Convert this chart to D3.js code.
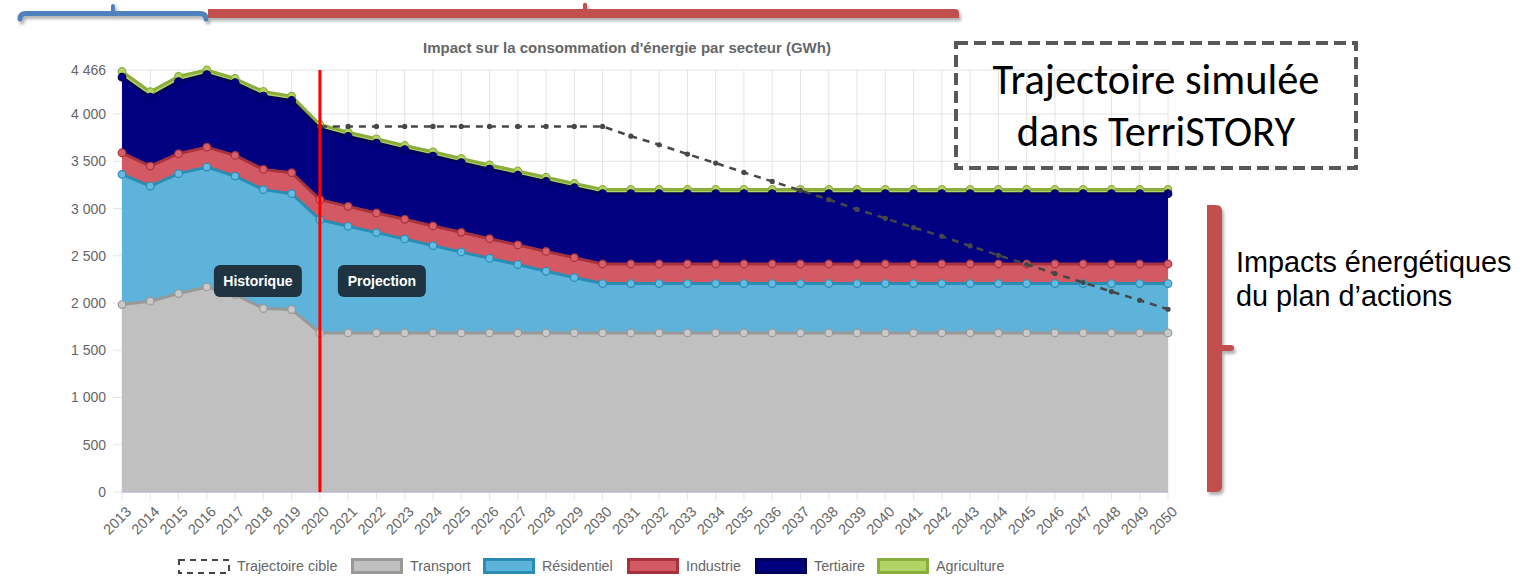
<!DOCTYPE html>
<html lang="fr">
<head>
<meta charset="utf-8">
<script src="https://cdn.jsdelivr.net/npm/d3@7"></script>
<style>
  html, body { margin: 0; padding: 0; background: #fff; }
  svg { display: block; }
</style>
</head>
<body>
<svg id="chart" width="1525" height="584"></svg>
<script>
// ---- Données (GWh) ----
const years = [2013, 2014, 2015, 2016, 2017, 2018, 2019, 2020, 2021, 2022, 2023, 2024, 2025,
  2026, 2027, 2028, 2029, 2030, 2031, 2032, 2033, 2034, 2035, 2036, 2037, 2038, 2039, 2040,
  2041, 2042, 2043, 2044, 2045, 2046, 2047, 2048, 2049, 2050];

const transport = [1984, 2019, 2100, 2170, 2090, 1942, 1931, 1684, 1684, 1684, 1684, 1684, 1684,
  1684, 1684, 1684, 1684, 1684, 1684, 1684, 1684, 1684, 1684, 1684, 1684, 1684, 1684, 1684,
  1684, 1684, 1684, 1684, 1684, 1684, 1684, 1684, 1684, 1684];

const residentiel = [1377, 1219, 1269, 1269, 1253, 1258, 1226, 1198, 1128, 1061, 994, 923, 856,
  789, 723, 652, 586, 522, 522, 522, 522, 522, 522, 522, 522, 522, 522, 522,
  522, 522, 522, 522, 522, 522, 522, 522, 522, 522];

const industrie = [229, 211, 211, 211, 219, 214, 222, 212, 211, 208, 208, 208, 208,
  208, 208, 210, 210, 207, 207, 207, 207, 207, 207, 207, 207, 207, 207, 207,
  207, 207, 207, 207, 207, 207, 207, 207, 207, 207];

const tertiaire = [800, 729, 764, 768, 769, 775, 764, 750, 740, 740, 736, 740, 737,
  735, 737, 740, 740, 744, 744, 744, 744, 744, 744, 744, 744, 744, 744, 744,
  744, 744, 744, 744, 744, 744, 744, 744, 744, 744];

const agriculture = [60, 58, 55, 48, 45, 50, 46, 45, 45, 45, 45, 45, 45,
  45, 45, 45, 45, 45, 45, 45, 45, 45, 45, 45, 45, 45, 45, 45,
  45, 45, 45, 45, 45, 45, 45, 45, 45, 45];

const trajectoireCible = [null, null, null, null, null, null, null, 3869, 3869, 3869, 3869, 3869, 3869,
  3869, 3869, 3869, 3869, 3869, 3766, 3675, 3576, 3481, 3382, 3287, 3192, 3094, 2991, 2896,
  2798, 2706, 2604, 2505, 2410, 2312, 2217, 2121, 2029, 1934];

const yTicks = [0, 500, 1000, 1500, 2000, 2500, 3000, 3500, 4000, 4466];
const yMax = 4466;
const anneeBascule = 2020;

const sectors = ["Transport", "Résidentiel", "Industrie", "Tertiaire", "Agriculture"];
const sectorValues = [transport, residentiel, industrie, tertiaire, agriculture];

const styles = {
  "Transport":   { fill: "#c0c0c0", line: "#999999", dot: "#c9c9c9" },
  "Résidentiel": { fill: "#5eb3da", line: "#2a8db4", dot: "#66bbe0" },
  "Industrie":   { fill: "#d35a64", line: "#a7323e", dot: "#d8606a" },
  "Tertiaire":   { fill: "#000080", line: "#00005c", dot: "#000080" },
  "Agriculture": { fill: "#b2d466", line: "#8aae3a", dot: "#b2d466" }
};

// ---- Mise en page ----
const svg = d3.select("#chart");
const font = "'Liberation Sans', Arial, Helvetica, sans-serif";
const plot = { left: 122, right: 1168, top: 70, bottom: 492 };

const x = d3.scalePoint().domain(years).range([plot.left, plot.right]);
const y = d3.scaleLinear().domain([0, yMax]).range([plot.bottom, plot.top]);

const defs = svg.append("defs");
const shadow = defs.append("filter").attr("id", "ombre")
  .attr("x", "-20%").attr("y", "-50%").attr("width", "140%").attr("height", "200%");
shadow.append("feDropShadow").attr("dx", 2).attr("dy", 3).attr("stdDeviation", 1.8)
  .attr("flood-color", "#000").attr("flood-opacity", 0.3);

// Titre
svg.append("text")
  .attr("x", 627).attr("y", 53)
  .attr("text-anchor", "middle")
  .attr("font-family", font).attr("font-size", 15).attr("font-weight", "bold")
  .attr("fill", "#666")
  .text("Impact sur la consommation d'énergie par secteur (GWh)");

// Grille
const grid = svg.append("g");
grid.selectAll("line.v").data(years).join("line")
  .attr("x1", d => x(d)).attr("x2", d => x(d))
  .attr("y1", plot.top).attr("y2", plot.bottom + 8)
  .attr("stroke", "#e4e4e4").attr("stroke-width", 1);
grid.selectAll("line.h").data(yTicks).join("line")
  .attr("x1", plot.left - 9).attr("x2", plot.right)
  .attr("y1", d => y(d)).attr("y2", d => y(d))
  .attr("stroke", "#e4e4e4").attr("stroke-width", 1);

// Axe Y
const fmt = v => d3.format(",")(v).replace(/,/g, "\u00a0");
const yAxis = d3.axisLeft(y).tickValues(yTicks).tickFormat(fmt).tickSize(0).tickPadding(16);
const gy = svg.append("g").attr("transform", `translate(${plot.left},0)`).call(yAxis);
gy.select(".domain").remove();
gy.selectAll("text").attr("font-family", font).attr("font-size", 14).attr("fill", "#666");

// Axe X
const xAxis = d3.axisBottom(x).tickSize(0).tickPadding(0);
const gx = svg.append("g").attr("transform", `translate(0,${plot.bottom})`).call(xAxis);
gx.select(".domain").remove();
gx.selectAll("text")
  .attr("font-family", font).attr("font-size", 14.5).attr("fill", "#666")
  .attr("text-anchor", "end")
  .attr("dy", "0.35em")
  .attr("transform", "translate(6,17) rotate(-45)");

// Empilement
const rows = years.map((yr, i) => {
  const r = { year: yr };
  sectors.forEach((s, k) => { r[s] = sectorValues[k][i]; });
  return r;
});
const stack = d3.stack().keys(sectors)(rows);

const area = d3.area().x(d => x(d.data.year)).y0(d => y(d[0])).y1(d => y(d[1]));
const topLine = d3.line().x(d => x(d.data.year)).y(d => y(d[1]));

const layers = svg.append("g");
// du haut vers le bas : les séries inférieures passent au-dessus
stack.slice().reverse().forEach(layer => {
  const st = styles[layer.key];
  const g = layers.append("g");
  g.append("path").datum(layer).attr("d", area).attr("fill", st.fill);
  g.append("path").datum(layer).attr("d", topLine)
    .attr("fill", "none").attr("stroke", st.line).attr("stroke-width", 3)
    .attr("stroke-linejoin", "round");
  g.selectAll("circle").data(layer).join("circle")
    .attr("cx", d => x(d.data.year)).attr("cy", d => y(d[1])).attr("r", 3.8)
    .attr("fill", st.dot).attr("stroke", st.line).attr("stroke-width", 1.2);
});

// Ligne de base
svg.append("line")
  .attr("x1", plot.left).attr("x2", plot.right)
  .attr("y1", plot.bottom).attr("y2", plot.bottom)
  .attr("stroke", "#bcbcd4").attr("stroke-width", 1.5);

// Trajectoire cible
const cible = years.map((yr, i) => ({ year: yr, v: trajectoireCible[i] })).filter(d => d.v !== null);
svg.append("path").datum(cible)
  .attr("d", d3.line().x(d => x(d.year)).y(d => y(d.v)))
  .attr("fill", "none").attr("stroke", "#474747").attr("stroke-width", 2.5)
  .attr("stroke-dasharray", "7 6");
svg.append("g").selectAll("circle").data(cible).join("circle")
  .attr("cx", d => x(d.year)).attr("cy", d => y(d.v)).attr("r", 2.6)
  .attr("fill", "#474747");

// Séparation historique / projection
svg.append("line")
  .attr("x1", x(anneeBascule)).attr("x2", x(anneeBascule))
  .attr("y1", plot.top).attr("y2", plot.bottom)
  .attr("stroke", "#ff0000").attr("stroke-width", 3);

function etiquette(label, cx) {
  const g = svg.append("g");
  g.append("rect").attr("x", cx - 44).attr("y", 265).attr("width", 88).attr("height", 32)
    .attr("rx", 6).attr("fill", "#1f3440");
  g.append("text").attr("x", cx).attr("y", 286).attr("text-anchor", "middle")
    .attr("font-family", font).attr("font-size", 14).attr("font-weight", "bold")
    .attr("fill", "#fff").text(label);
}
etiquette("Historique", x(anneeBascule) - 62);
etiquette("Projection", x(anneeBascule) + 62);

// Légende
const legendItems = [
  { label: "Trajectoire cible", x: 178, dashed: true },
  { label: "Transport", x: 351 },
  { label: "Résidentiel", x: 483 },
  { label: "Industrie", x: 627 },
  { label: "Tertiaire", x: 755 },
  { label: "Agriculture", x: 877 }
];
const lg = svg.append("g");
legendItems.forEach(it => {
  const g = lg.append("g");
  if (it.dashed) {
    g.append("rect").attr("x", it.x + 1).attr("y", 560).attr("width", 50).attr("height", 13)
      .attr("fill", "#fff").attr("stroke", "#444").attr("stroke-width", 2)
      .attr("stroke-dasharray", "6 5");
  } else {
    const st = styles[it.label];
    g.append("rect").attr("x", it.x + 1.5).attr("y", 559.5).attr("width", 49).attr("height", 13)
      .attr("fill", st.fill).attr("stroke", st.line).attr("stroke-width", 3);
  }
  g.append("text").attr("x", it.x + 59).attr("y", 571)
    .attr("font-family", font).attr("font-size", 14.3).attr("fill", "#666")
    .text(it.label);
});

// ---- Annotations ----
// Accolade bleue (historique)
const ann = svg.append("g").attr("filter", "url(#ombre)");
ann.append("path")
  .attr("d", "M20,19 Q20,13.5 26,13.5 H200 Q206,13.5 206,19")
  .attr("fill", "none").attr("stroke", "#4f81bd").attr("stroke-width", 5)
  .attr("stroke-linecap", "round");
ann.append("path")
  .attr("d", "M113,13 V6")
  .attr("fill", "none").attr("stroke", "#4f81bd").attr("stroke-width", 4)
  .attr("stroke-linecap", "round");

// Accolade rouge (projection)
ann.append("path")
  .attr("d", "M208,9 H955 Q959,9 959,13 V18 H208 Z")
  .attr("fill", "#c0504d");
ann.append("path")
  .attr("d", "M583,10 V4 Q585,1.5 587,4 V10 Z")
  .attr("fill", "#c0504d");

// Accolade rouge verticale
ann.append("path")
  .attr("d", "M1207,205 H1216 Q1222,205 1222,211 V345 H1231 Q1234,345 1234,348 Q1234,351 1231,351 H1222 V486 Q1222,492 1216,492 H1207 Z")
  .attr("fill", "#c0504d");

// Encadré pointillé
svg.append("rect")
  .attr("x", 956).attr("y", 43).attr("width", 400).attr("height", 125)
  .attr("fill", "none").attr("stroke", "#595959").attr("stroke-width", 4)
  .attr("stroke-dasharray", "12 6");

const boxFont = "Carlito, Lato, 'Open Sans', sans-serif";
const t1 = svg.append("text").attr("x", 1156).attr("y", 94).attr("text-anchor", "middle")
  .attr("font-family", boxFont).attr("font-size", 36).attr("fill", "#000")
  .text("Trajectoire simulée");
const t2 = svg.append("text").attr("x", 1156).attr("y", 146).attr("text-anchor", "middle")
  .attr("font-family", boxFont).attr("font-size", 36).attr("fill", "#000")
  .text("dans TerriSTORY");
// ajuste la taille pour une largeur de ligne d'environ 327 px
const w1 = t1.node().getComputedTextLength();
const fs = 36 * 327 / w1;
t1.attr("font-size", fs);
t2.attr("font-size", fs);

svg.append("text").attr("x", 1236).attr("y", 272)
  .attr("font-family", font).attr("font-size", 28.8).attr("fill", "#000")
  .text("Impacts énergétiques");
svg.append("text").attr("x", 1236).attr("y", 306)
  .attr("font-family", font).attr("font-size", 28.8).attr("fill", "#000")
  .text("du plan d’actions");
</script>
</body>
</html>
